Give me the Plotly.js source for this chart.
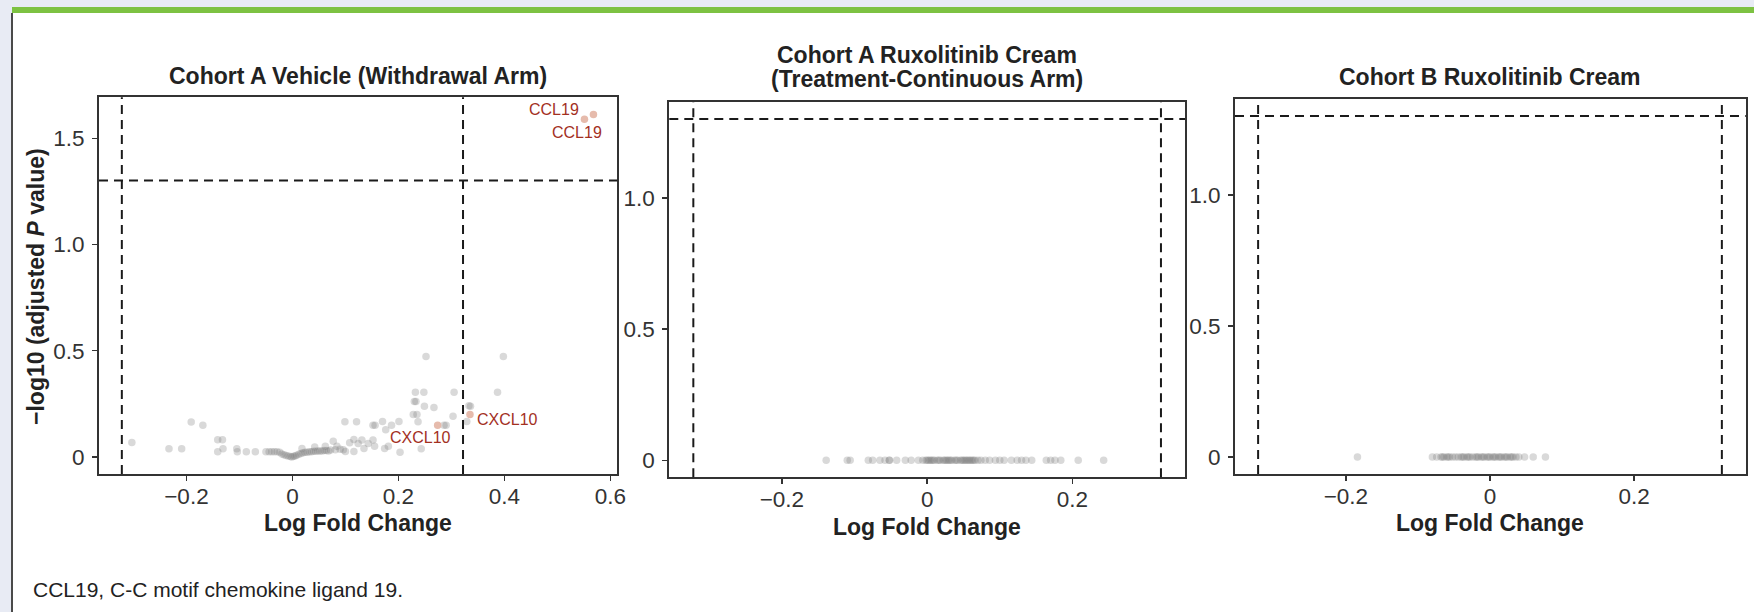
<!DOCTYPE html>
<html>
<head>
<meta charset="utf-8">
<script src="https://cdn.plot.ly/plotly-3.0.1.min.js"></script>
<style>
  html, body { margin: 0; padding: 0; width: 1754px; height: 612px; overflow: hidden; background: #e8ebf4; }
  #green { position: absolute; left: 12px; top: 7px; width: 1742px; height: 6px; background: #7dc242; }
  #card { position: absolute; left: 11px; top: 13px; width: 1743px; height: 599px; background: #ffffff; border-left: 2px solid #4a4a4a; box-sizing: border-box; }
  #chart { position: absolute; left: 0; top: 0; width: 1754px; height: 612px; }
</style>
</head>
<body>
<div id="green"></div>
<div id="card"></div>
<div id="chart"></div>
<script>
// ---------------- DATA ----------------
const panelTitles = ["<b>Cohort A Vehicle (Withdrawal Arm)</b>",
                     "<b>Cohort A Ruxolitinib Cream</b>",
                     "<b>(Treatment-Continuous Arm)</b>",
                     "<b>Cohort B Ruxolitinib Cream</b>"];
const xAxisTitle = "<b>Log Fold Change</b>";
const yAxisTitle = "<b>\u2212log10 (adjusted <i>P</i> value)</b>";
const footnote = "CCL19, C-C motif chemokine ligand 19.";

// fold-change and adjusted-P thresholds
const lfcThresholds = [-0.3219, 0.3219];
const pThreshold = 1.301;

// Cohort A Vehicle – non-significant genes
const vehX = [-0.303,-0.233,-0.209,-0.191,-0.169,-0.141,-0.132,-0.141,-0.131,-0.105,-0.104,-0.087,-0.070,
  -0.050,-0.044,-0.039,-0.034,-0.029,-0.024,-0.020,-0.016,-0.012,-0.008,-0.004,-0.001,0.002,0.005,0.008,
  0.012,0.016,0.020,0.024,0.028,0.032,0.036,0.040,0.044,0.048,0.052,0.056,0.060,0.064,0.068,0.072,0.077,
  0.081,0.084,0.096,0.100,0.108,0.116,0.116,0.124,0.131,0.135,0.143,0.152,0.155,0.174,0.181,0.203,
  0.099,0.121,0.152,0.156,0.170,0.176,0.187,0.201,0.237,0.243,0.228,0.235,0.230,0.233,0.249,0.267,
  0.232,0.248,0.305,0.387,0.252,0.398,0.286,0.290,0.303,0.329,0.333,0.336,0.018,0.042,0.062,0.090];
const vehY = [0.068,0.038,0.038,0.164,0.149,0.081,0.081,0.024,0.038,0.038,0.024,0.024,0.024,
  0.024,0.024,0.024,0.024,0.024,0.022,0.014,0.010,0.006,0.004,0.002,0.000,0.003,0.004,0.008,
  0.012,0.016,0.020,0.022,0.022,0.024,0.024,0.026,0.026,0.028,0.028,0.028,0.030,0.030,0.028,0.032,0.073,
  0.033,0.050,0.034,0.025,0.066,0.082,0.025,0.063,0.079,0.040,0.063,0.079,0.050,0.040,0.050,0.022,
  0.165,0.165,0.149,0.149,0.167,0.128,0.149,0.167,0.165,0.038,0.199,0.199,0.261,0.261,0.238,0.233,
  0.304,0.304,0.304,0.304,0.473,0.473,0.149,0.149,0.191,0.167,0.241,0.238,0.040,0.046,0.050,0.036];

// Cohort A Vehicle – highlighted genes
const hiGenes = ["CCL19","CCL19","CXCL10","CXCL10"];
const hiX = [0.551, 0.568, 0.274, 0.335];
const hiY = [1.590, 1.612, 0.149, 0.199];

// Cohort A Ruxolitinib (all adjusted P ~ 1)
const ruxAX = [-0.139,-0.110,-0.106,-0.081,-0.075,-0.065,-0.058,-0.052,-0.042,-0.030,-0.022,-0.012,-0.006,
  -0.002,0.002,0.006,0.010,0.014,0.018,0.022,0.026,0.030,0.034,0.038,0.042,0.046,0.050,0.054,0.058,0.062,
  0.066,0.070,0.074,0.080,0.086,0.094,0.100,0.106,0.116,0.124,0.130,0.136,0.144,0.164,0.170,0.176,0.184,
  0.208,0.243,0.000,0.008,0.016,0.024,0.032,0.040,0.048,0.056,0.064,-0.052,0.004,0.028,0.052,0.060];
const ruxAY = ruxAX.map(() => 0);

// Cohort B Ruxolitinib (all adjusted P ~ 1)
const ruxBX = [-0.184,-0.080,-0.074,-0.068,-0.064,-0.060,-0.056,-0.052,-0.048,-0.044,-0.040,-0.036,-0.032,
  -0.028,-0.024,-0.020,-0.016,-0.012,-0.008,-0.004,0.000,0.004,0.008,0.012,0.016,0.020,0.024,0.028,0.032,
  0.036,0.040,0.048,0.060,0.077,-0.066,-0.058,-0.038,-0.030,-0.018,-0.010,-0.002,0.006,0.014,0.022,0.030];
const ruxBY = ruxBX.map(() => 0);

// tick labels
const xTicks1 = [-0.2, 0, 0.2, 0.4, 0.6];
const xTickText1 = ["\u22120.2", "0", "0.2", "0.4", "0.6"];
const yTicks1 = [0, 0.5, 1.0, 1.5];
const yTickText1 = ["0", "0.5", "1.0", "1.5"];
const xTicks23 = [-0.2, 0, 0.2];
const xTickText23 = ["\u22120.2", "0", "0.2"];
const yTicks23 = [0, 0.5, 1.0];
const yTickText23 = ["0", "0.5", "1.0"];

// ---------------- STYLE ----------------
const FONT = "Liberation Sans, Arial, Helvetica, sans-serif";
const greyMarker = {size: 7.5, color: "rgb(119,119,119)", opacity: 0.28, line: {width: 0}};

function pts(x, y, xa, ya) {
  return {type: "scatter", mode: "markers", x: x, y: y, xaxis: xa, yaxis: ya,
          marker: greyMarker, hoverinfo: "skip", showlegend: false};
}

const traces = [
  pts(vehX, vehY, "x", "y"),
  {type: "scatter", mode: "markers", x: hiX, y: hiY, xaxis: "x", yaxis: "y",
   marker: {size: 7.5, color: "rgb(230,187,172)", line: {width: 0}}, hoverinfo: "skip", showlegend: false},
  pts(ruxAX, ruxAY, "x2", "y2"),
  pts(ruxBX, ruxBY, "x3", "y3")
];

function axis(extra) {
  return Object.assign({
    showgrid: false, zeroline: false, showline: true, mirror: true,
    linecolor: "#333", linewidth: 2, ticks: "outside", ticklen: 5, tickwidth: 1.5, tickcolor: "#333",
    tickfont: {family: FONT, size: 22.5, color: "#333"}, fixedrange: true, tickmode: "array"
  }, extra);
}

const layout = {
  width: 1754, height: 612,
  margin: {l: 0, r: 0, t: 0, b: 0},
  paper_bgcolor: "rgba(0,0,0,0)", plot_bgcolor: "#ffffff",
  showlegend: false,
  xaxis:  axis({domain: [0.05644, 0.35194], range: [-0.365, 0.613], tickvals: xTicks1, ticktext: xTickText1, anchor: "y", ticklabelstandoff: -4}),
  yaxis:  axis({domain: [0.22549, 0.84101], range: [-0.0806, 1.693], tickvals: yTicks1, ticktext: yTickText1, anchor: "x", ticklabelstandoff: 3}),
  xaxis2: axis({domain: [0.38158, 0.67560], range: [-0.355, 0.355], tickvals: xTicks23, ticktext: xTickText23, anchor: "y2", ticklabelstandoff: -4}),
  yaxis2: axis({domain: [0.22010, 0.83333], range: [-0.065, 1.366], tickvals: yTicks23, ticktext: yTickText23, anchor: "x2", ticklabelstandoff: 3}),
  xaxis3: axis({domain: [0.70410, 0.99527], range: [-0.354, 0.355], tickvals: xTicks23, ticktext: xTickText23, anchor: "y3", ticklabelstandoff: -4}),
  yaxis3: axis({domain: [0.22549, 0.83824], range: [-0.065, 1.366], tickvals: yTicks23, ticktext: yTickText23, anchor: "x3", ticklabelstandoff: 3}),
  shapes: [],
  annotations: []
};

const dashLine = {color: "#1a1a1a", width: 2, dash: "9px,6px"};
[["x","y"],["x2","y2"],["x3","y3"]].forEach(([xa, ya]) => {
  lfcThresholds.forEach(v => layout.shapes.push({type: "line", xref: xa, yref: ya + " domain",
    x0: v, x1: v, y0: 0, y1: 1, line: dashLine, layer: "above"}));
  layout.shapes.push({type: "line", xref: xa + " domain", yref: ya,
    x0: 0, x1: 1, y0: pThreshold, y1: pThreshold, line: dashLine, layer: "above"});
});

function txt(text, x, y, size, opts) {
  return Object.assign({text: text, x: x, y: y, xref: "paper", yref: "paper", showarrow: false,
    xanchor: "center", yanchor: "middle", font: {family: FONT, size: size, color: "#222"}}, opts || {});
}
layout.annotations.push(
  txt(panelTitles[0], 0.20410, 0.87582, 23),
  txt(panelTitles[1], 0.52834, 0.91013, 23),
  txt(panelTitles[2], 0.52834, 0.87092, 23),
  txt(panelTitles[3], 0.84949, 0.87418, 23),
  txt(xAxisTitle, 0.20410, 0.14461, 23),
  txt(xAxisTitle, 0.52851, 0.13889, 23),
  txt(xAxisTitle, 0.84949, 0.14461, 23),
  txt(yAxisTitle, 0.02052, 0.53268, 23, {textangle: -90}),
  txt(footnote, 0.01767, 0.03676, 21, {xanchor: "left"})
);

// gene labels tied to highlighted points
const labelShift = [[-3, 10, "right"], [-16, -18, "center"], [-17, -12, "center"], [5, -5, "left"]];
hiGenes.forEach((g, i) => {
  layout.annotations.push({text: g, x: hiX[i], y: hiY[i], xref: "x", yref: "y", showarrow: false,
    xanchor: labelShift[i][2], yanchor: "middle", xshift: labelShift[i][0], yshift: labelShift[i][1],
    font: {family: FONT, size: 16, color: "#a3301f"}});
});

Plotly.newPlot("chart", traces, layout, {displayModeBar: false, staticPlot: true});
</script>
</body>
</html>
